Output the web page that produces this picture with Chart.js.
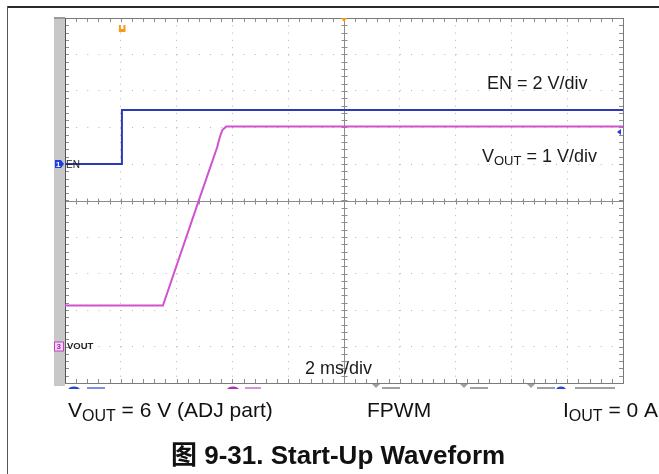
<!DOCTYPE html>
<html><head><meta charset="utf-8">
<script src="https://cdn.jsdelivr.net/npm/chart.js@4"></script>
<style>
html,body{margin:0;padding:0;background:#fff;overflow:hidden;}
canvas{display:block;}
</style></head>
<body>
<canvas id="c" width="659" height="474"></canvas>
<script>
// ---- data read from the scope capture ----
// time axis: 2 ms/div, 10 divisions, trigger at centre
const timeTicksMs = [-10, -8, -6, -4, -2, 0, 2, 4, 6, 8, 10];
// EN channel (2 V/div)
const enTimeMs = [-10, -7.96, -7.96, 10];
const enVolts  = [0, 0, 2.96, 2.96];
// VOUT channel (1 V/div)
const voutTimeMs = [-10, -6.49, -5.2, -4.55, -4.45, -4.36, -4.22, 10];
const voutVolts  = [1.12, 1.12, 4.01, 5.45, 5.74, 5.93, 6.03, 6.03];
// trigger level marker on EN
const enTriggerLevel = 1.75;

const FONT = '"Liberation Sans", Arial, "Noto Sans CJK SC", sans-serif';

function pts(xs, ys){ return xs.map((x,i)=>({x:x, y:ys[i]})); }

function drawSubText(c, x, y, parts){
  let cx = x;
  for (const p of parts){
    c.font = (p[3]?'bold ':'') + p[1] + 'px ' + FONT;
    c.fillText(p[0], cx, y + p[2]);
    cx += c.measureText(p[0]).width;
  }
}

const scopePlugin = {
  id: 'scope',
  beforeDraw(chart){
    const c = chart.ctx, a = chart.chartArea;
    c.save();
    c.fillStyle = '#fff'; c.fillRect(0,0,chart.width,chart.height);
    // outer document frame
    c.fillStyle = '#2a2a2a'; c.fillRect(7, 6, 652, 2);
    c.fillStyle = '#555'; c.fillRect(7, 6, 1, 468);
    // grey channel strip at left
    c.fillStyle = '#c8c8c8'; c.fillRect(a.left-11, a.top-1, 11, a.bottom-a.top+4);
    c.fillStyle = '#9a9a9a'; c.fillRect(a.left-11, a.top-1, 11, 2);
    // cut-off status bar under the plot
    c.save();
    c.beginPath(); c.rect(0, a.bottom+1, chart.width, 5); c.clip();
    c.fillStyle = '#2848d8';
    c.beginPath(); c.ellipse(a.left+9, a.bottom+7, 6, 3.5, 0, 0, Math.PI*2); c.fill();
    c.fillStyle = '#7f90e8'; c.fillRect(a.left+22, a.bottom+4, 18, 2);
    c.fillStyle = '#b030b0';
    c.beginPath(); c.ellipse(a.left+168, a.bottom+7, 6, 3.5, 0, 0, Math.PI*2); c.fill();
    c.fillStyle = '#d890d8'; c.fillRect(a.left+180, a.bottom+4, 16, 2);
    c.fillStyle = '#a0a0a0';
    [a.left+311, a.left+399, a.left+466].forEach(x=>{
      c.beginPath(); c.moveTo(x-4,a.bottom+1); c.lineTo(x+4,a.bottom+1); c.lineTo(x,a.bottom+5); c.closePath(); c.fill();
      c.fillRect(x+6, a.bottom+4, 18, 2);
    });
    c.fillStyle = '#2848d8';
    c.beginPath(); c.ellipse(a.left+496, a.bottom+7, 5, 3.5, 0, 0, Math.PI*2); c.fill();
    c.fillStyle = '#a0a0a0'; c.fillRect(a.left+510, a.bottom+4, 40, 2);
    c.restore();
    c.restore();
  },
  beforeDatasetsDraw(chart){
    const c = chart.ctx, a = chart.chartArea;
    const xs = chart.scales.x, ys = chart.scales.yV;
    const cx = Math.round(xs.getPixelForValue(0)) + 0.5;
    const cy = Math.round(ys.getPixelForValue(4)) + 0.5;
    c.save();
    c.strokeStyle = '#8c8c8c'; c.lineWidth = 1;
    c.beginPath();
    c.moveTo(a.left, cy); c.lineTo(a.right, cy);
    c.moveTo(cx, a.top); c.lineTo(cx, a.bottom);
    c.stroke();
    c.beginPath();
    for (let t = -10; t <= 10.001; t += 0.4){
      const px = Math.round(xs.getPixelForValue(t)) + 0.5;
      c.moveTo(px, cy-3); c.lineTo(px, cy+3);
      c.moveTo(px, a.top); c.lineTo(px, a.top+4);
      c.moveTo(px, a.bottom); c.lineTo(px, a.bottom-4);
    }
    for (let v = -1; v <= 9.001; v += 0.2){
      const py = Math.round(ys.getPixelForValue(v)) + 0.5;
      c.moveTo(cx-3, py); c.lineTo(cx+3, py);
      c.moveTo(a.left, py); c.lineTo(a.left+4, py);
      c.moveTo(a.right, py); c.lineTo(a.right-4, py);
    }
    c.stroke();
    c.strokeStyle = '#7a7a7a';
    c.strokeRect(Math.round(a.left)+0.5, Math.round(a.top)+0.5, Math.round(a.right-a.left), Math.round(a.bottom-a.top));
    c.strokeStyle = '#555';
    c.beginPath(); c.moveTo(Math.round(a.left)+0.5, a.top); c.lineTo(Math.round(a.left)+0.5, a.bottom); c.stroke();
    c.restore();
  },
  afterDatasetsDraw(chart){
    const c = chart.ctx, a = chart.chartArea;
    const xs = chart.scales.x, ys = chart.scales.yV, ye = chart.scales.yEN;
    c.save();
    const enY = ye.getPixelForValue(0), vY = ys.getPixelForValue(0);
    c.fillStyle = '#1f3fe0';
    c.beginPath(); c.moveTo(a.left-10, enY-4); c.lineTo(a.left-4, enY-4); c.lineTo(a.left-1, enY); c.lineTo(a.left-4, enY+4); c.lineTo(a.left-10, enY+4); c.closePath(); c.fill();
    c.fillStyle = '#fff'; c.font = 'bold 8px ' + FONT; c.textBaseline = 'middle';
    c.fillText('1', a.left-9, enY+0.5);
    c.fillStyle = '#222'; c.font = '10px ' + FONT;
    c.fillText('EN', a.left+1, enY+1);
    c.fillStyle = '#f6d8f6'; c.strokeStyle = '#c040c0'; c.lineWidth = 1;
    c.fillRect(a.left-10.5, vY-4.5, 9, 9); c.strokeRect(a.left-10.5, vY-4.5, 9, 9);
    c.fillStyle = '#a030a0'; c.font = 'bold 8px ' + FONT;
    c.fillText('3', a.left-8.5, vY+0.5);
    c.fillStyle = '#222'; c.font = 'bold 9.5px ' + FONT;
    c.fillText('VOUT', a.left+2, vY);
    const tx = xs.getPixelForValue(enTimeMs[1]);
    c.fillStyle = '#f59a1a';
    c.fillRect(tx-3, a.top+7, 2, 6); c.fillRect(tx+1.5, a.top+7, 2, 6); c.fillRect(tx-3, a.top+11, 6.5, 3);
    const cx = xs.getPixelForValue(0);
    c.beginPath(); c.moveTo(cx-3, a.top); c.lineTo(cx+3, a.top); c.lineTo(cx, a.top+4); c.closePath(); c.fill();
    const ty = ye.getPixelForValue(enTriggerLevel);
    c.fillStyle = '#2040e0';
    c.beginPath(); c.moveTo(a.right-6, ty); c.lineTo(a.right-2, ty-3); c.lineTo(a.right-2, ty+3); c.closePath(); c.fill();
    c.textBaseline = 'alphabetic';
    c.fillStyle = '#1a1a1a';
    c.font = '18px ' + FONT;
    c.fillText('EN = 2 V/div', 487, 89);
    drawSubText(c, 482, 162, [['V',18,0],['OUT',13,2.5],[' = 1 V/div',18,0]]);
    c.font = '18px ' + FONT;
    c.fillText('2 ms/div', 305, 374);
    c.restore();
  },
  afterDraw(chart){
    const c = chart.ctx;
    c.save();
    c.fillStyle = '#111'; c.textBaseline = 'alphabetic';
    drawSubText(c, 68, 417, [['V',21,0],['OUT',16,3.5],[' = 6 V (ADJ part)',21,0]]);
    c.font = '21px ' + FONT;
    c.fillText('FPWM', 367, 417);
    drawSubText(c, 563, 417, [['I',21,0],['OUT',16,3.5],[' = 0 A',21,0]]);
    c.font = 'bold 26px ' + FONT;
    c.fillText('图 9-31. Start-Up Waveform', 171, 464);
    c.restore();
  }
};

new Chart(document.getElementById('c').getContext('2d'), {
  type: 'line',
  data: {
    datasets: [
      { label: 'EN', data: pts(enTimeMs, enVolts), yAxisID: 'yEN',
        borderColor: '#2a3ab8', borderWidth: 2, pointRadius: 0, tension: 0, fill: false },
      { label: 'VOUT', data: pts(voutTimeMs, voutVolts), yAxisID: 'yV',
        borderColor: '#d152d1', borderWidth: 2, pointRadius: 0, tension: 0, fill: false }
    ]
  },
  options: {
    responsive: false, animation: false, devicePixelRatio: 1,
    layout: { padding: { left: 65, top: 18, right: 36, bottom: 91 } },
    plugins: { legend: { display: false }, tooltip: { enabled: false }, title: { display: false } },
    scales: {
      x: { type: 'linear', min: -10, max: 10,
           afterBuildTicks: s => { s.ticks = timeTicksMs.map(v => ({ value: v })); },
           ticks: { display: false },
           grid: { color: '#b4b4b4', lineWidth: 1, drawTicks: false },
           border: { display: false, dash: [1, 6.3] } },
      yV: { type: 'linear', position: 'left', min: -1, max: 9,
            ticks: { display: false, stepSize: 1 },
            grid: { color: '#b4b4b4', lineWidth: 1, drawTicks: false },
            border: { display: false, dash: [1, 10.16] } },
      yEN: { type: 'linear', display: false, min: -12, max: 8 }
    }
  },
  plugins: [scopePlugin]
});
</script>
</body></html>
